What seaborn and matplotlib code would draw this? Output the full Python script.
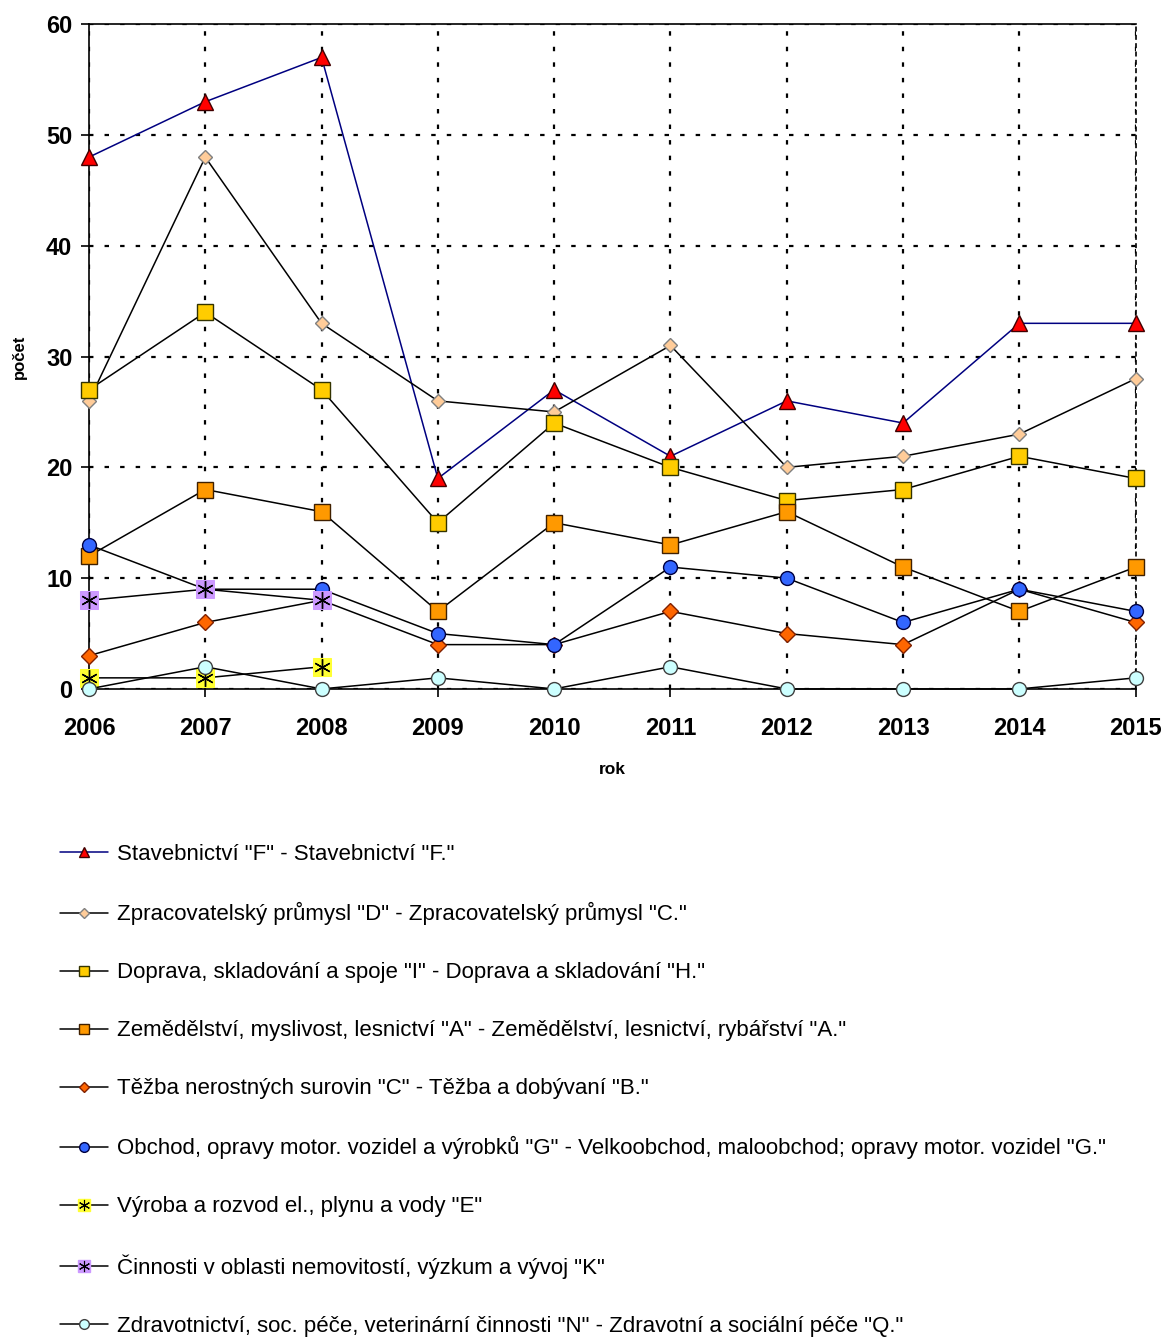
import matplotlib
matplotlib.use("Agg")
import matplotlib.pyplot as plt
from matplotlib.lines import Line2D
from matplotlib.legend_handler import HandlerTuple
import seaborn as sns
import pandas as pd

years = [2006, 2007, 2008, 2009, 2010, 2011, 2012, 2013, 2014, 2015]
years_short = [2006, 2007, 2008]

stavebnictvi = [48, 53, 57, 19, 27, 21, 26, 24, 33, 33]
zpracovatelsky = [26, 48, 33, 26, 25, 31, 20, 21, 23, 28]
doprava = [27, 34, 27, 15, 24, 20, 17, 18, 21, 19]
zemedelstvi = [12, 18, 16, 7, 15, 13, 16, 11, 7, 11]
tezba = [3, 6, 8, 4, 4, 7, 5, 4, 9, 6]
obchod = [13, 9, 9, 5, 4, 11, 10, 6, 9, 7]
vyroba = [1, 1, 2]
cinnosti = [8, 9, 8]
zdravotnictvi = [0, 2, 0, 1, 0, 2, 0, 0, 0, 1]

labels = [
    'Stavebnictví "F" - Stavebnictví "F."',
    'Zpracovatelský průmysl "D" - Zpracovatelský průmysl "C."',
    'Doprava, skladování a spoje "I" - Doprava a skladování "H."',
    'Zemědělství, myslivost, lesnictví "A" - Zemědělství, lesnictví, rybářství "A."',
    'Těžba nerostných surovin "C" - Těžba a dobývaní "B."',
    'Obchod, opravy motor. vozidel a výrobků "G" - Velkoobchod, maloobchod; opravy motor. vozidel "G."',
    'Výroba a rozvod el., plynu a vody "E"',
    'Činnosti v oblasti nemovitostí, výzkum a vývoj "K"',
    'Zdravotnictví, soc. péče, veterinární činnosti "N" - Zdravotní a sociální péče "Q."',
]

sns.set_theme(style="white")
plt.rcParams["font.family"] = ["Liberation Sans", "DejaVu Sans"]
plt.rcParams["text.color"] = "#000000"
plt.rcParams["axes.labelcolor"] = "#000000"
plt.rcParams["xtick.color"] = "#000000"
plt.rcParams["ytick.color"] = "#000000"

fig = plt.figure(figsize=(11.66, 13.44), dpi=100)
ax = fig.add_axes([0.0763, 0.4874, 0.974 - 0.0763, 0.982 - 0.4874])

# (x, y, line colour, marker, face, edge, size)
series = [
    (years, stavebnictvi, "#000080", "^", "#FF0000", "#400000", 11),
    (years, zpracovatelsky, "#000000", "D", "#FFCC99", "#808080", 7),
    (years, doprava, "#000000", "s", "#FFCC00", "#333300", 11),
    (years, zemedelstvi, "#000000", "s", "#FF9900", "#402000", 11),
    (years, tezba, "#000000", "D", "#FF6600", "#802000", 8),
    (years, obchod, "#000000", "o", "#3366FF", "#000040", 10),
]

handles = []
for i, (xs, ys, lc, mk, fc, ec, ms) in enumerate(series):
    df = pd.DataFrame({"rok": xs, "počet": ys})
    sns.lineplot(data=df, x="rok", y="počet", ax=ax, color=lc, lw=1.1,
                 marker=mk, markersize=ms, markerfacecolor=fc,
                 markeredgecolor=ec, markeredgewidth=1.0, zorder=3 + i,
                 clip_on=False)
    handles.append(Line2D([], [], color=lc, lw=1.1, marker=mk, markersize=ms * 0.7,
                          markerfacecolor=fc, markeredgecolor=ec))

# asterisk markers drawn over a coloured square background
for j, (ys, bg) in enumerate([(vyroba, "#FFFF33"), (cinnosti, "#CC99FF")]):
    df = pd.DataFrame({"rok": years_short, "počet": ys})
    z = 10 + j
    sns.lineplot(data=df, x="rok", y="počet", ax=ax, color="#000000", lw=1.1,
                 marker="s", markersize=13, markerfacecolor=bg,
                 markeredgecolor=bg, zorder=z, clip_on=False)
    ax.plot(years_short, ys, ls="none", marker=(6, 2, 0), markersize=12,
            markeredgecolor="#000000", markeredgewidth=1.0, zorder=z + 0.5,
            clip_on=False)
    h_bg = Line2D([], [], color="#000000", lw=1.1, marker="s", markersize=9,
                  markerfacecolor=bg, markeredgecolor=bg)
    h_st = Line2D([], [], ls="none", marker=(6, 2, 0), markersize=8,
                  markeredgecolor="#000000", markeredgewidth=0.8)
    handles.append((h_bg, h_st))

df = pd.DataFrame({"rok": years, "počet": zdravotnictvi})
sns.lineplot(data=df, x="rok", y="počet", ax=ax, color="#000000", lw=1.1,
             marker="o", markersize=10, markerfacecolor="#CCFFFF",
             markeredgecolor="#404040", markeredgewidth=1.0, zorder=13,
             clip_on=False)
handles.append(Line2D([], [], color="#000000", lw=1.1, marker="o", markersize=7,
                      markerfacecolor="#CCFFFF", markeredgecolor="#404040"))

ax.set_xlim(2006, 2015)
ax.set_ylim(0, 60)
ax.set_xticks(years)
ax.set_yticks(range(0, 61, 10))
ax.grid(True, color="#000000", linestyle=(0, (2, 5)), linewidth=1.6)
ax.set_axisbelow(True)
for side in ["left", "bottom", "top", "right"]:
    ax.spines[side].set_visible(True)
    ax.spines[side].set_color("#000000")
    ax.spines[side].set_linewidth(1.2)
ax.spines["right"].set_linestyle((0, (2, 3)))
ax.tick_params(axis="both", direction="out", length=6, width=1.2, color="#000000",
               labelsize=17)
ax.tick_params(axis="y", left=True, pad=6)
ax.tick_params(axis="x", bottom=True, pad=14)
for lab in ax.get_xticklabels() + ax.get_yticklabels():
    lab.set_fontweight("bold")
ax.set_xlabel("rok", fontsize=12.5, fontweight="bold", labelpad=16)
ax.set_ylabel("počet", fontsize=12, fontweight="bold", labelpad=14)
if ax.get_legend() is not None:
    ax.get_legend().remove()

fig.legend(handles, labels, loc="upper left", bbox_to_anchor=(0.044, 0.3785),
           frameon=False, fontsize=16.0, labelspacing=1.665, handlelength=2.15,
           handletextpad=0.4, borderaxespad=0,
           handler_map={tuple: HandlerTuple(ndivide=1)})

fig.savefig("out.png", dpi=100, facecolor="white")
